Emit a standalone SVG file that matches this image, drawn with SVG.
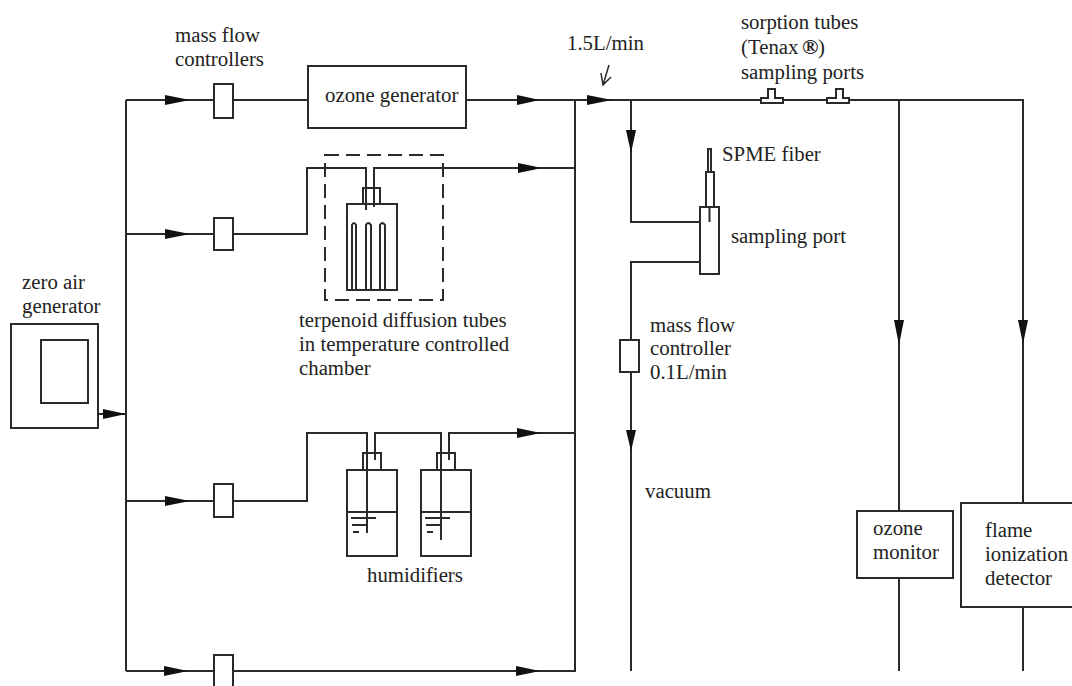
<svg xmlns="http://www.w3.org/2000/svg" width="1072" height="686" viewBox="0 0 1072 686">
<style>
.l{fill:none;stroke:#2a2a2a;stroke-width:2}
.b{fill:#fff;stroke:#2a2a2a;stroke-width:2}
.t{font-family:"Liberation Serif","Times New Roman",serif;font-size:20.800px;fill:#222}
.a{fill:#111}
</style>
<rect width="1072" height="686" fill="#fff"/>
<g id="connectors">
<path class="l" d="M126 0V0M126 100V671M126 100H214M233 100H308M466 100H1023V671M126 234H214M233 234H307V168H366V210M374 207V168H575M126 501H214M233 501H307V433H367V533M375 460V433H441V540M449 460V433H575M126 671H214M233 671H575V100M98 414H126"/>
<path class="l" d="M899 100V511M899 578V671M1023 607V671M631 100V222H700M700 262H631V341M631 372V671"/>
<path class="l" d="M609 65L603 85M601 73L603 85L611 77" style="stroke-width:1.500"/>
<g class="a">
<path d="M165 95V105L190 100Z"/><path d="M517 95V105L540 100Z"/><path d="M587 95V105L612 100Z"/>
<path d="M165 229V239L190 234Z"/><path d="M518 163V173L542 168Z"/>
<path d="M165 496V506L190 501Z"/><path d="M517 428V438L541 433Z"/>
<path d="M164 666V676L188 671Z"/><path d="M516 666V676L540 671Z"/>
<path d="M103 409V419L126 414Z"/>
<path d="M626 130H636L631 153Z"/><path d="M626 430H636L631 451Z"/>
<path d="M894 320H904L899 345Z"/><path d="M1018 320H1028L1023 344Z"/>
</g>
</g>
<g id="zero-air-generator">
<rect class="b" x="11" y="324" width="87" height="104"/>
<rect class="b" x="41" y="340" width="47" height="63"/>
<text class="t" x="22" y="289">zero air</text>
<text class="t" x="22" y="313">generator</text>
</g>
<g id="mfc-1"><rect class="b" x="214" y="84" width="19" height="34"/></g>
<g id="mfc-2"><rect class="b" x="214" y="218" width="19" height="32"/></g>
<g id="mfc-3"><rect class="b" x="214" y="484" width="19" height="33"/></g>
<g id="mfc-4"><rect class="b" x="214" y="655" width="19" height="32"/></g>
<g id="mfc-label"><text class="t" x="175" y="42">mass flow</text><text class="t" x="175" y="66">controllers</text></g>
<g id="ozone-generator">
<rect class="b" x="308" y="66" width="158" height="62"/>
<text class="t" x="325" y="102">ozone generator</text>
</g>
<g id="terpenoid-chamber">
<rect class="l" x="325" y="155" width="118" height="145" stroke-dasharray="14 7"/>
<rect class="l" x="363" y="188" width="17" height="16"/>
<rect class="l" x="347" y="204" width="50" height="86"/>
<path class="l" d="M352 290V225Q354 221 356 225V290M366 290V225Q368 221 371 225V290M380 290V225Q382 221 385 225V290"/>
<text class="t" x="299" y="327">terpenoid diffusion tubes</text>
<text class="t" x="299" y="351">in temperature controlled</text>
<text class="t" x="299" y="375">chamber</text>
</g>
<g id="humidifier-1">
<rect class="l" x="363" y="453" width="18" height="17"/>
<rect class="l" x="347" y="470" width="50" height="86"/>
<path class="l" d="M347 512H397M351 518H376M352 525H367M353 532H359"/>
</g>
<g id="humidifier-2">
<rect class="l" x="437" y="453" width="18" height="17"/>
<rect class="l" x="421" y="470" width="50" height="86"/>
<path class="l" d="M421 512H471M425 518H450M426 525H441M427 532H433"/>
<text class="t" x="367" y="582">humidifiers</text>
</g>
<g id="flow-label"><text class="t" x="567" y="50">1.5L/min</text></g>
<g id="sorption-ports">
<path class="b" d="M761 103V98H768V89H775V98H783V103Z"/>
<path class="b" d="M827 103V98H836V89H843V98H849V103Z"/>
<text class="t" x="741" y="29">sorption tubes</text>
<text class="t" x="741" y="54">(Tenax</text>
<text x="802" y="54" font-family="'Liberation Serif',serif" font-size="22" font-weight="bold" fill="#222">®</text>
<text class="t" x="818" y="54">)</text>
<text class="t" x="741" y="79">sampling ports</text>
</g>
<g id="sampling-port">
<rect class="l" x="708" y="149" width="3" height="23"/>
<rect class="b" x="706" y="172" width="8" height="35"/>
<rect class="b" x="700" y="207" width="19" height="67"/>
<path class="l" d="M709.500 207V222"/>
<text class="t" x="722" y="161">SPME fiber</text>
<text class="t" x="731" y="243">sampling port</text>
</g>
<g id="mfc-vacuum">
<rect class="b" x="620" y="340" width="19" height="32"/>
<text class="t" x="650" y="332">mass flow</text>
<text class="t" x="650" y="355">controller</text>
<text class="t" x="650" y="379">0.1L/min</text>
<text class="t" x="645" y="498">vacuum</text>
</g>
<g id="ozone-monitor">
<rect class="b" x="857" y="511" width="96" height="67"/>
<text class="t" x="873" y="535">ozone</text>
<text class="t" x="873" y="559">monitor</text>
</g>
<g id="fid">
<rect class="b" x="961" y="503" width="112" height="104"/>
<text class="t" x="985" y="537">flame</text>
<text class="t" x="985" y="561">ionization</text>
<text class="t" x="985" y="585">detector</text>
</g>
</svg>
